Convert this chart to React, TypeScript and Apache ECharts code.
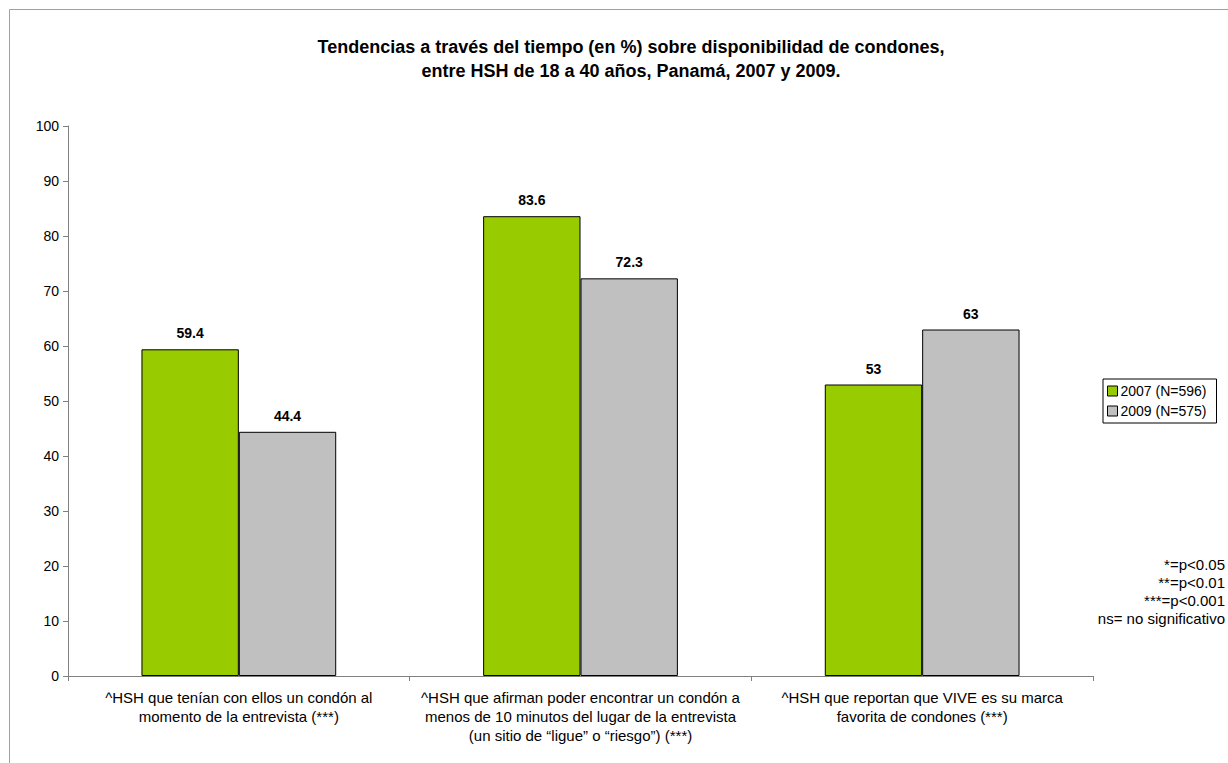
import React, { useEffect, useRef } from "react";
import * as echarts from "echarts";

const titleLines = [
  "Tendencias a través del tiempo (en %) sobre disponibilidad de condones,",
  "entre HSH de 18 a 40 años, Panamá, 2007 y 2009.",
];
const categories = [
  "^HSH que tenían con ellos un condón al\nmomento de la entrevista (***)",
  "^HSH que afirman poder encontrar un condón a\nmenos de 10 minutos del lugar de la entrevista\n(un sitio de “ligue” o “riesgo”) (***)",
  "^HSH que reportan que VIVE es su marca\nfavorita de condones (***)",
];
const seriesNames = ["2007 (N=596)", "2009 (N=575)"];
const values2007 = [59.4, 83.6, 53];
const values2009 = [44.4, 72.3, 63];
const footnotes = ["*=p<0.05", "**=p<0.01", "***=p<0.001", "ns= no significativo"];

const FONT = "'Liberation Sans', Arial, sans-serif";

export default function App() {
  const ref = useRef<HTMLDivElement>(null);
  useEffect(() => {
    if (!ref.current) return;
    const chart = echarts.init(ref.current, null, { renderer: "svg" });
    const labelStyle = {
      show: true,
      position: "top" as const,
      distance: 9,
      fontFamily: FONT,
      fontSize: 14,
      fontWeight: "bold" as const,
      color: "#000",
    };
    chart.setOption({
      animation: false,
      backgroundColor: "#fff",
      textStyle: { fontFamily: FONT },
      title: {
        text: titleLines.join("\n"),
        left: 626,
        textAlign: "center",
        top: 30,
        textStyle: {
          fontFamily: FONT,
          fontSize: 18,
          fontWeight: "bold",
          color: "#000",
          lineHeight: 24,
        },
      },
      legend: {
        orient: "vertical",
        left: 1103,
        top: 379,
        data: seriesNames,
        itemWidth: 10,
        itemHeight: 10,
        itemGap: 6,
        itemStyle: { borderColor: "#000", borderWidth: 1 },
        padding: [5, 10, 5, 4],
        borderColor: "#000",
        borderWidth: 1,
        icon: "rect",
        textStyle: { fontFamily: FONT, fontSize: 14, color: "#000", padding: [0, 0, 0, -2] },
      },
      grid: { left: 68, top: 126, width: 1025, height: 550, containLabel: false },
      xAxis: {
        type: "category",
        data: categories,
        axisLine: { lineStyle: { color: "#808080", width: 1 } },
        axisTick: { show: true, length: 5, lineStyle: { color: "#808080" } },
        axisLabel: {
          fontFamily: FONT,
          fontSize: 15,
          color: "#000",
          lineHeight: 19,
          margin: 12,
          interval: 0,
        },
      },
      yAxis: {
        type: "value",
        min: 0,
        max: 100,
        interval: 10,
        splitLine: { show: false },
        axisLine: { show: true, lineStyle: { color: "#808080", width: 1 } },
        axisTick: { show: true, length: 5, lineStyle: { color: "#808080" } },
        axisLabel: { fontFamily: FONT, fontSize: 14, color: "#000", margin: 9 },
      },
      series: [
        {
          name: seriesNames[0],
          type: "bar",
          data: values2007,
          barGap: "0%",
          barCategoryGap: "43%",
          itemStyle: { color: "#99cc00", borderColor: "#000", borderWidth: 1 },
          label: labelStyle,
        },
        {
          name: seriesNames[1],
          type: "bar",
          data: values2009,
          barGap: "0%",
          barCategoryGap: "43%",
          itemStyle: { color: "#c0c0c0", borderColor: "#000", borderWidth: 1 },
          label: labelStyle,
        },
      ],
      graphic: [
        {
          type: "rect",
          left: 7,
          top: 7,
          shape: { width: 1260, height: 800 },
          style: { fill: "none", stroke: "#a0a0a0", lineWidth: 1 },
          silent: true,
          z: -1,
        },
        {
          type: "text",
          x: 1225,
          y: 555,
          style: {
            text: footnotes.join("\n"),
            fontFamily: FONT,
            fontSize: 15,
            lineHeight: 18,
            fill: "#000",
            align: "right",
            verticalAlign: "top",
          },
        },
      ],
    });
    return () => chart.dispose();
  }, []);
  return (
    <div
      ref={ref}
      style={{ position: "absolute", left: 0, top: 0, width: 1228, height: 763 }}
    />
  );
}
